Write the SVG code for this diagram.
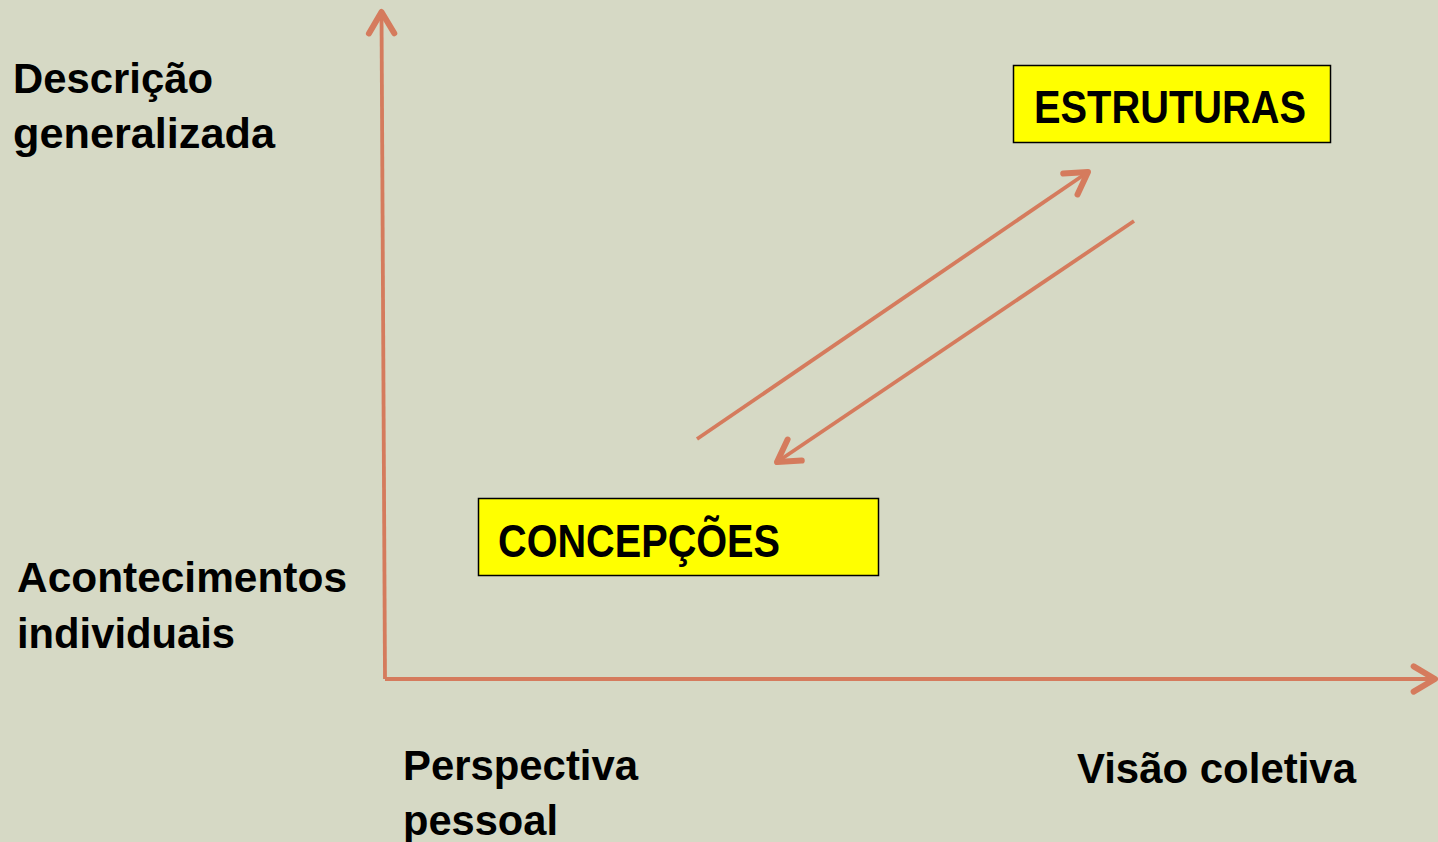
<svg xmlns="http://www.w3.org/2000/svg" width="1438" height="842" viewBox="0 0 1438 842">
<style>
.lbl{font-family:"Liberation Sans",Arial,sans-serif;font-weight:bold;font-size:43px;fill:#000}
.big{font-size:46px}
.box{fill:#FFFF00;stroke:#000;stroke-width:1.5}
.conn{stroke:#D57B5D;stroke-width:3.8;fill:none;stroke-linecap:butt}
</style>
<defs>
<marker id="ah" markerUnits="userSpaceOnUse" markerWidth="40" markerHeight="40" viewBox="-25 -15 30 30" refX="0" refY="0" orient="auto">
<path d="M-16,-9.5 L0,0 L-16,9.5" fill="none" stroke="#D57B5D" stroke-width="4.5" stroke-linecap="round" stroke-linejoin="round"/>
</marker>
</defs>
<rect width="1438" height="842" fill="#D6D9C5"/>
<g id="connectors">
<line class="conn" x1="385" y1="679" x2="381.5" y2="12" marker-end="url(#ah)"/>
<line class="conn" x1="385" y1="679" x2="1435" y2="679" marker-end="url(#ah)"/>
<line class="conn" x1="697" y1="439" x2="1088" y2="172" marker-end="url(#ah)"/>
<line class="conn" x1="1134" y1="221" x2="777" y2="462" marker-end="url(#ah)"/>
</g>
<g id="estruturas">
<rect class="box" x="1013.5" y="65.5" width="317" height="77"/>
<text class="lbl big" x="1034" y="123" textLength="272" lengthAdjust="spacingAndGlyphs">ESTRUTURAS</text>
</g>
<g id="concepcoes">
<rect class="box" x="478.5" y="498.5" width="400" height="77"/>
<text class="lbl big" x="498" y="557" textLength="282" lengthAdjust="spacingAndGlyphs">CONCEPÇÕES</text>
</g>
<g id="y-labels">
<text class="lbl" x="13" y="93" textLength="200" lengthAdjust="spacingAndGlyphs">Descrição</text>
<text class="lbl" x="13" y="148" textLength="262" lengthAdjust="spacingAndGlyphs">generalizada</text>
<text class="lbl" x="17" y="592" textLength="330" lengthAdjust="spacingAndGlyphs">Acontecimentos</text>
<text class="lbl" x="17" y="648" textLength="218" lengthAdjust="spacingAndGlyphs">individuais</text>
</g>
<g id="x-labels">
<text class="lbl" x="403" y="780" textLength="235" lengthAdjust="spacingAndGlyphs">Perspectiva</text>
<text class="lbl" x="403" y="835" textLength="155" lengthAdjust="spacingAndGlyphs">pessoal</text>
<text class="lbl" x="1077" y="783" textLength="279" lengthAdjust="spacingAndGlyphs">Visão coletiva</text>
</g>
</svg>
